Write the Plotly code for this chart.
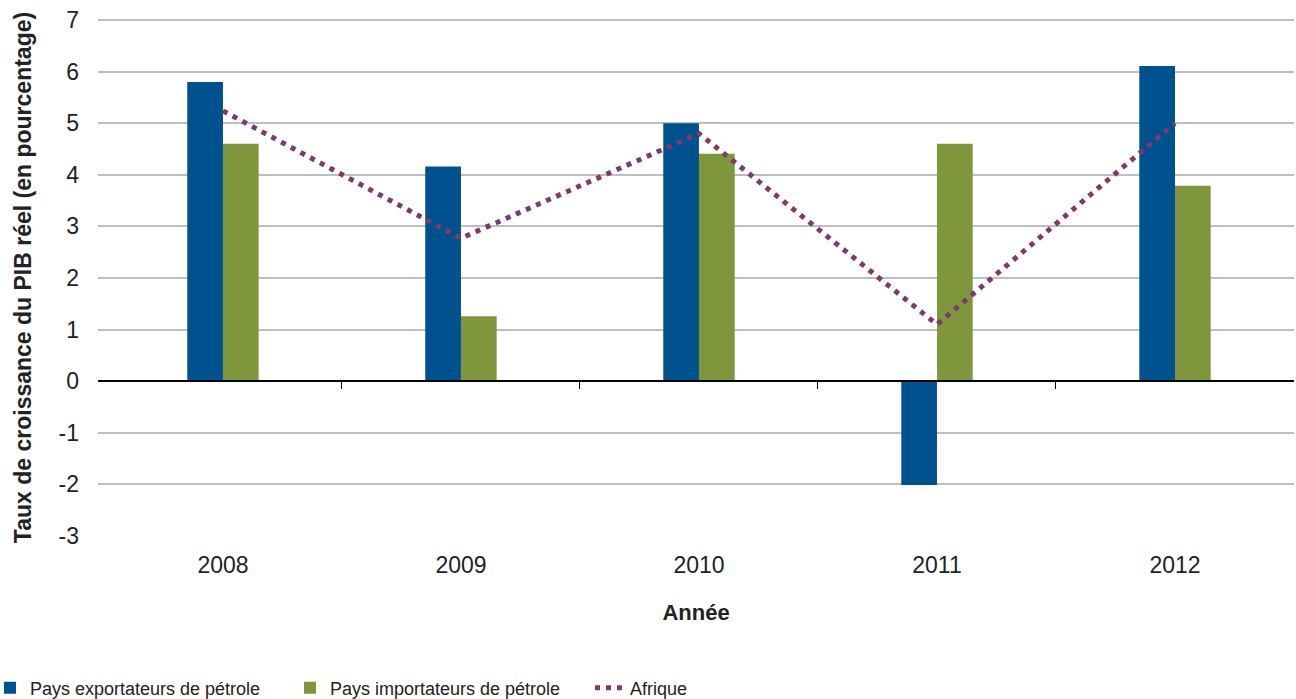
import plotly.graph_objects as go

years = ["2008", "2009", "2010", "2011", "2012"]
exportateurs = [5.80, 4.16, 5.00, -2.01, 6.11]
importateurs = [4.60, 1.26, 4.41, 4.60, 3.79]
afrique = [5.24, 2.77, 4.80, 1.10, 5.00]
y_ticks = [-3, -2, -1, 0, 1, 2, 3, 4, 5, 6, 7]
y_tick_labels = ["-3", "-2", "-1", "0", "1", "2", "3", "4", "5", "6", "7"]
boundaries = [0.5, 1.5, 2.5, 3.5]

FONT = "Liberation Sans, Arial, Helvetica, sans-serif"
BLUE = "#00528F"
GREEN = "#7F963C"
PURPLE = "#7D3A6C"

fig = go.Figure()
fig.add_trace(go.Bar(x=years, y=exportateurs, name="Pays exportateurs de pétrole",
                     marker=dict(color=BLUE, line=dict(width=0))))
fig.add_trace(go.Bar(x=years, y=importateurs, name="Pays importateurs de pétrole",
                     marker=dict(color=GREEN, line=dict(width=0))))
fig.add_trace(go.Scatter(x=years, y=afrique, name="Afrique", mode="lines",
                         line=dict(color=PURPLE, width=5, dash="5px,6px")))
# invisible helper trace for the zero axis with boundary ticks
fig.add_trace(go.Scatter(x=[0, 4], y=[0, 0], xaxis="x2", mode="lines",
                         line=dict(width=0), showlegend=False, hoverinfo="skip"))

xr = [-0.525, 4.5]
fig.update_layout(
    width=1296, height=699,
    margin=dict(l=98, r=2, t=19, b=163, autoexpand=False),
    paper_bgcolor="white", plot_bgcolor="white",
    font=dict(family=FONT, size=22, color="#222222"),
    barmode="group", bargap=0.70, bargroupgap=0,
    showlegend=True,
    legend=dict(orientation="h", xref="paper", x=-0.0903, xanchor="left",
                yref="paper", y=-0.294, yanchor="middle",
                font=dict(size=18, color="#222222"), itemwidth=30,
                entrywidth=255, entrywidthmode="pixels",
                traceorder="normal", tracegroupgap=0),
    xaxis=dict(type="category", range=xr, showgrid=False, showline=False,
               ticks="", zeroline=False, ticklabelstandoff=13, automargin=False,
               tickfont=dict(size=23),
               title=dict(text="<b>Année</b>", font=dict(size=22), standoff=27)),
    xaxis2=dict(overlaying="x", anchor="free", position=0.3, range=xr,
                showgrid=False, zeroline=False, showline=True, linecolor="black",
                linewidth=2, tickmode="array", tickvals=boundaries, ticks="outside",
                ticklen=7, tickcolor="black", tickwidth=1, showticklabels=False,
                automargin=False),
    yaxis=dict(range=[-3, 7.02], tickvals=y_ticks, ticktext=y_tick_labels,
               showgrid=True, gridcolor="#BEBEBE",
               gridwidth=1.5, zeroline=False, showline=False, ticks="",
               ticklabelstandoff=18, tickfont=dict(size=23), automargin=False,
               title=dict(text="<b>Taux de croissance du PIB réel (en pourcentage)</b>",
                          font=dict(size=23), standoff=20)),
)

fig.write_html("out.html", config={"displayModeBar": False},
               post_script="document.body.style.margin='0';")
